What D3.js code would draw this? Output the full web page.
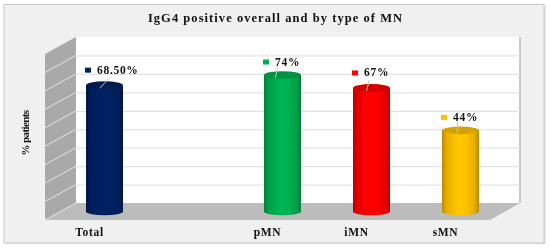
<!DOCTYPE html>
<html><head><meta charset="utf-8">
<script src="https://cdn.jsdelivr.net/npm/d3@7"></script>
<style>html,body{margin:0;padding:0;background:#fff}svg{display:block;filter:blur(.35px)}text{font-family:"Liberation Serif",serif;font-weight:bold;fill:#111}</style>
</head><body><div id="c"></div>
<script>
const categories = ["Total", "", "pMN", "iMN", "sMN"];
const values = [68.5, null, 74, 67, 44];
const valueLabels = ["68.50%", "", "74%", "67%", "44%"];
const colors = ["#002060", null, "#00b050", "#ff0000", "#ffc000"];
const titleText = "IgG4 positive overall and by type of MN";
const yAxisTitle = "% patients";

const W = 550, H = 248;
const wall = {l: 76, r: 520, t: 37, b: 203}, depthX = 31, depthY = 17;
const svg = d3.select("#c").append("svg").attr("width", W).attr("height", H);
const defs = svg.append("defs");

const x = d3.scaleBand().domain(categories).range([60, 505]);
const y = d3.scaleLinear().domain([0, 90]).range([wall.b, wall.t]);
const barW = 37, barDrop = 8.5, ry = 3.8;

// frame
svg.append("rect").attr("x", 5.5).attr("y", 5.5).attr("width", 540).attr("height", 238.5).attr("fill", "#dcdcdc");
svg.append("rect").attr("x", 4).attr("y", 4.5).attr("width", 540).attr("height", 238.5)
  .attr("fill", "#f0f0f0").attr("stroke", "#c8c8c8").attr("stroke-width", 1);

// back wall
svg.append("rect").attr("x", wall.l).attr("y", wall.t).attr("width", wall.r - wall.l).attr("height", wall.b - wall.t).attr("fill", "#fff");
svg.append("line").attr("x1", wall.r).attr("x2", wall.r).attr("y1", wall.t).attr("y2", wall.b).attr("stroke", "#bdbdbd").attr("stroke-width", 1.6);

// side wall and floor
const poly = p => p.map(d => d.join(",")).join(" ");
svg.append("polygon").attr("points", poly([[wall.l, wall.t], [wall.l - depthX, wall.t + depthY], [wall.l - depthX, wall.b + depthY], [wall.l, wall.b]])).attr("fill", "#a9a9a9");
svg.append("polygon").attr("points", poly([[wall.l, wall.b], [wall.r, wall.b], [wall.r - depthX + 1, wall.b + depthY], [wall.l - depthX, wall.b + depthY]])).attr("fill", "#bcbcbc");

// gridlines
const yAxis = d3.axisLeft(y).tickValues(d3.range(10, 90, 10)).tickSize(-(wall.r - wall.l)).tickFormat("");
const gy = svg.append("g").attr("transform", `translate(${wall.l},0)`).call(yAxis);
gy.select(".domain").remove();
gy.selectAll("line").attr("stroke", "#e4e4e4").attr("stroke-width", 1.2);
svg.append("g").selectAll("line").data(d3.range(0, 90, 10)).join("line")
  .attr("x1", wall.l).attr("x2", wall.l - depthX)
  .attr("y1", d => y(d)).attr("y2", d => y(d) + depthY)
  .attr("stroke", "#e2e2e2").attr("stroke-width", 1);

// cylinders
const data = categories.map((c, i) => ({c, v: values[i], label: valueLabels[i], color: colors[i], i})).filter(d => d.v != null);
data.forEach(d => {
  const c = d3.color(d.color), dark = c.darker(.9), mid = c.darker(.3), lite = c.brighter(.1);
  const g = defs.append("linearGradient").attr("id", "g" + d.i);
  [[0, dark], [.12, mid], [.42, lite], [.66, c], [.88, mid], [1, dark]].forEach(s => g.append("stop").attr("offset", s[0]).attr("stop-color", s[1]));
});
const bars = svg.append("g").selectAll("g").data(data).join("g");
const cx = d => x(d.c) + x.bandwidth() / 2;
const topY = d => y(d.v) + barDrop, baseY = y(0) + barDrop;
bars.append("path").attr("fill", d => `url(#g${d.i})`).attr("d", d => {
  const l = cx(d) - barW / 2, r = cx(d) + barW / 2;
  return `M${l},${topY(d)}L${l},${baseY}A${barW / 2},${ry} 0 0 0 ${r},${baseY}L${r},${topY(d)}Z`;
});
bars.append("ellipse").attr("cx", cx).attr("cy", topY).attr("rx", barW / 2).attr("ry", ry)
  .attr("fill", d => d3.color(d.color).darker(.5));

// leader lines
const leadX = {Total: [-4.5, 5.5], pMN: [-7, -5], iMN: [-5, -2], sMN: [-3.5, -3]};
bars.append("line")
  .attr("x1", d => cx(d) + leadX[d.c][0]).attr("y1", d => topY(d) + 3)
  .attr("x2", d => cx(d) + leadX[d.c][1]).attr("y2", d => topY(d) - 8)
  .attr("stroke", "#c4c4c4").attr("stroke-width", 1);

// value labels
const labelDy = {Total: -15, pMN: -13, iMN: -15, sMN: -13};
const labelY = d => topY(d) + labelDy[d.c];
bars.append("rect").attr("x", d => cx(d) - barW / 2 - 1).attr("y", d => labelY(d) - 2.5)
  .attr("width", 6).attr("height", 5).attr("fill", d => d.color);
bars.append("text").attr("x", d => cx(d) - barW / 2 + 11).attr("y", d => labelY(d) + 3.5)
  .attr("font-size", 11.5).attr("letter-spacing", .7).text(d => d.label);

// category labels
const xAxis = d3.axisBottom(x).tickSize(0).tickPadding(0);
const gx = svg.append("g").attr("transform", `translate(-15,${wall.b + depthY + 7.5})`).call(xAxis);
gx.select(".domain").remove();
gx.selectAll("text").attr("font-size", 11.5).attr("letter-spacing", .7).attr("font-family", '"Liberation Serif",serif').attr("fill", "#111");

// titles
svg.append("text").attr("x", 275.5).attr("y", 22).attr("text-anchor", "middle").attr("font-size", 12.5).attr("letter-spacing", 1.05).text(titleText);
svg.append("text").attr("transform", "translate(29,133) rotate(-90)").attr("text-anchor", "middle").attr("font-size", 11).attr("letter-spacing", -.6).text(yAxisTitle);
</script></body></html>
